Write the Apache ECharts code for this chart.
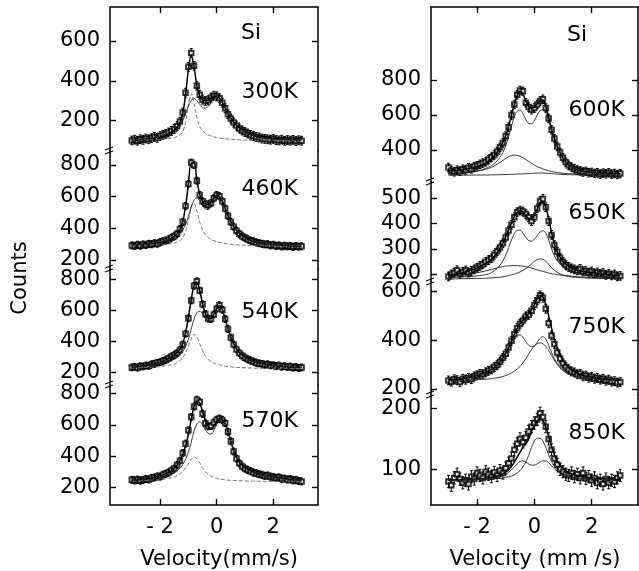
<!DOCTYPE html>
<html><head><meta charset="utf-8">
<script src="https://cdn.jsdelivr.net/npm/echarts@6/dist/echarts.min.js"></script>
<style>html,body{margin:0;padding:0;background:#fff}#c{width:639px;height:571px}</style>
</head><body><div id="c"></div><script>
// ---------- data ----------
const velocity = [-3.0,-2.9,-2.8,-2.7,-2.6,-2.5,-2.4,-2.3,-2.2,-2.1,-2.0,-1.9,-1.8,-1.7,-1.6,-1.5,-1.4,-1.3,-1.2,-1.1,-1.0,-0.9,-0.8,-0.7,-0.6,-0.5,-0.4,-0.3,-0.2,-0.1,0.0,0.1,0.2,0.3,0.4,0.5,0.6,0.7,0.8,0.9,1.0,1.1,1.2,1.3,1.4,1.5,1.6,1.7,1.8,1.9,2.0,2.1,2.2,2.3,2.4,2.5,2.6,2.7,2.8,2.9,3.0];
const fitVelocity = [-3,-2.5,-2,-1.7,-1.5,-1.3,-1.2,-1.1,-1.0,-0.9,-0.8,-0.7,-0.6,-0.5,-0.4,-0.3,-0.2,-0.1,0,0.1,0.2,0.3,0.4,0.5,0.6,0.7,0.8,1.0,1.2,1.5,2,2.5,3];

const counts300 = [100,104,99,106,103,110,106,112,118,113,122,128,133,140,148,158,172,195,240,340,470,540,475,375,330,305,298,302,315,325,322,312,290,262,232,210,190,175,160,150,142,135,128,122,118,115,110,108,106,104,108,102,100,104,98,102,99,103,97,101,99];
const fit300 = [100,106,118,135,152,190,235,330,455,530,470,375,325,305,300,304,314,322,322,312,290,262,234,211,192,176,163,143,130,117,108,104,102];
const singlet300 = [101,103,106,109,114,128,145,190,280,335,285,215,170,148,136,128,122,118,115,112,110,108,107,106,105,104,103,102,101,101,100,100,100];
const doublet300 = [104,110,122,135,148,175,200,235,272,300,310,300,282,267,262,270,290,310,320,312,290,262,234,211,192,176,163,143,130,117,108,104,102];

const counts460 = [292,288,296,290,298,294,302,299,306,303,312,318,322,330,340,350,365,395,440,540,680,815,800,700,610,570,555,548,560,590,610,602,570,525,478,440,410,385,365,350,340,330,322,318,310,306,302,298,300,292,296,288,292,285,290,286,289,282,288,284,286];
const fit460 = [292,297,311,328,348,390,440,540,680,810,810,705,615,570,552,550,565,592,608,600,570,525,480,442,412,388,368,342,324,306,296,290,287];
const singlet460 = [291,293,296,300,306,322,340,380,450,535,558,510,440,390,360,342,330,322,316,311,307,304,301,299,297,296,295,293,292,291,290,290,290];
const doublet460 = [295,302,315,328,342,368,390,425,475,535,578,592,575,545,522,518,540,580,606,602,570,525,478,440,410,385,365,340,322,306,296,290,287];

const counts540 = [232,236,230,240,238,245,242,252,255,262,266,274,280,290,302,312,325,345,380,450,550,665,760,790,730,640,578,548,545,575,612,635,605,545,480,425,380,348,325,308,295,285,276,270,262,258,255,249,252,245,246,240,244,236,240,234,238,230,235,228,232];
const fit540 = [233,244,266,290,312,348,385,455,555,670,760,785,730,645,580,550,548,575,612,632,605,545,482,428,385,352,328,298,278,260,245,236,231];
const singlet540 = [228,231,237,245,255,275,295,325,370,420,445,430,385,340,305,285,270,260,253,248,244,240,237,235,233,232,231,229,228,227,226,225,225];
const doublet540 = [232,242,258,272,285,312,335,368,415,480,545,585,595,580,555,540,545,575,612,632,605,545,482,428,385,352,328,298,278,260,245,236,231];

const counts570 = [250,246,252,244,250,255,252,262,265,272,270,282,288,296,310,322,345,372,420,480,565,650,715,760,745,670,610,590,592,615,632,640,630,610,555,495,430,385,355,335,322,312,305,296,292,285,282,275,278,270,268,262,266,256,258,252,255,246,250,242,240];
const fit570 = [248,256,275,298,322,372,410,465,540,635,718,752,740,685,628,590,575,590,622,640,632,607,557,497,437,392,362,327,307,287,268,255,246];
const singlet570 = [242,246,252,260,268,288,302,325,352,382,395,385,358,328,302,285,273,265,259,255,252,250,248,247,246,245,244,243,242,241,240,240,240];
const doublet570 = [245,252,265,280,295,325,348,380,425,490,560,605,620,600,568,545,540,565,605,632,628,605,555,495,435,390,360,325,305,285,266,253,244];

const counts600 = [300,282,275,285,278,290,285,298,292,305,310,318,325,332,345,358,372,392,415,440,480,530,600,660,715,740,735,670,645,630,640,660,680,690,640,580,515,465,420,385,355,330,312,302,292,285,280,274,278,270,272,266,270,262,268,264,270,262,266,260,265];
const fit600 = [280,287,305,325,350,388,412,442,482,535,600,660,712,735,720,680,648,638,645,665,683,685,648,585,520,465,420,355,313,285,272,267,264];
const doublet600 = [262,268,280,295,310,338,358,385,425,475,535,590,622,628,608,575,552,550,568,600,625,630,610,568,510,460,418,355,315,285,270,264,262];
const broad600 = [262,268,278,290,300,318,328,340,352,362,368,371,369,364,356,346,335,324,314,305,298,292,286,281,277,274,271,267,264,262,260,259,258];
const low600 = [256,256,257,257,258,258,259,259,260,260,261,261,262,263,264,264,265,266,267,268,268,268,267,266,265,263,262,260,259,258,257,256,256];

const counts650 = [190,198,205,215,200,208,214,205,212,218,225,232,238,248,255,262,276,290,305,322,345,372,395,425,445,452,448,438,425,410,425,460,490,498,465,410,355,315,288,265,248,235,228,222,218,214,220,210,212,205,210,202,206,200,204,196,200,194,198,190,192];
const fit650 = [195,205,224,242,258,285,302,322,348,375,402,428,444,450,445,432,420,418,432,458,482,488,465,420,365,318,287,250,230,215,205,198,193];
const doublet650 = [186,188,192,197,205,222,235,252,275,305,335,360,373,374,362,345,333,330,338,352,367,372,362,335,300,272,252,228,212,200,192,189,187];
const broad650 = [190,196,205,212,218,224,227,229,231,232,233,233,233,232,231,229,226,223,220,216,213,210,207,204,201,199,197,194,192,189,186,184,183];
const small650 = [180,181,182,183,184,186,187,189,191,193,196,199,203,208,214,221,230,240,250,257,260,258,250,238,225,214,206,196,190,186,183,182,181];

const counts750 = [235,230,240,236,228,242,238,246,240,252,256,262,260,268,275,280,290,298,312,328,345,370,398,425,450,468,482,498,505,522,545,565,585,575,530,470,420,385,350,325,305,290,280,272,268,260,262,252,255,246,250,242,245,238,242,234,238,230,232,226,228];
const fit750 = [236,242,256,268,280,298,312,328,346,370,398,425,448,468,482,495,508,525,548,570,585,578,548,500,450,405,368,318,288,263,248,241,236];
const doublet750 = [238,245,258,270,280,298,310,325,343,365,390,410,420,422,412,395,380,374,378,392,408,415,405,380,350,325,305,280,265,252,244,240,237];
const singlet750 = [234,236,238,240,242,246,248,251,255,260,266,273,282,293,307,324,343,362,377,386,390,386,375,358,338,318,300,275,261,250,242,238,236];

const counts850 = [80,74,86,92,84,78,82,76,88,84,94,90,86,96,92,88,95,90,98,94,102,110,118,132,142,150,145,152,162,170,176,182,192,186,170,150,132,118,108,100,96,92,90,94,88,92,86,94,85,88,82,86,78,82,76,84,78,82,80,86,90];
const fit850 = [82,83,84,85,87,89,90,93,96,100,105,112,120,128,136,142,150,162,172,180,182,180,170,154,138,124,114,102,95,90,86,84,83];
const singlet850 = [82,82,83,83,84,85,85,86,87,88,89,91,94,98,104,112,123,136,146,151,151,146,136,124,113,105,99,92,88,86,84,83,82];
const doublet850 = [82,82,83,84,85,87,88,90,92,95,99,104,109,113,114,112,109,107,107,109,112,114,114,111,106,101,97,92,89,86,84,83,82];

const temperatures = ['300K','460K','540K','570K','600K','650K','750K','850K'];
const errorHalf = [22,22,22,22,24,17,18,10];
const yTicks = [[200,400,600],[200,400,600,800],[200,400,600,800],[200,400,600,800],[400,600,800],[200,300,400,500],[200,400,600],[100,200]];
const xTicks = [-2,0,2];

// ---------- layout ----------
const colBox = [{left:110, right:318}, {left:431, right:638}];
const colRows = [[7,151,269,385,505],[7,182,282,395,505]];
const yRanges = [[47,771],[143,888],[118,869],[90,853],[217,1217],[168,565],[175,640],[41.5,222]];
const xRanges = [[-3.77,3.58],[-3.61,3.62]];
const labelY = [92,189,312,421,110,213,327,433];
const labelRight = [298,625];
const FONT = '"DejaVu Sans", sans-serif';

const panels = [
  {counts:counts300, fit:fit300, comps:[singlet300, doublet300]},
  {counts:counts460, fit:fit460, comps:[singlet460, doublet460]},
  {counts:counts540, fit:fit540, comps:[singlet540, doublet540]},
  {counts:counts570, fit:fit570, comps:[singlet570, doublet570]},
  {counts:counts600, fit:fit600, comps:[doublet600, broad600, low600]},
  {counts:counts650, fit:fit650, comps:[doublet650, broad650, small650]},
  {counts:counts750, fit:fit750, comps:[doublet750, singlet750]},
  {counts:counts850, fit:fit850, comps:[singlet850, doublet850]}
];

const grid = [], xAxis = [], yAxis = [], series = [], graphic = [];
panels.forEach((p, i) => {
  const col = i < 4 ? 0 : 1, row = i % 4;
  const box = colBox[col], rows = colRows[col];
  grid.push({left: box.left, width: box.right - box.left, top: rows[row], height: rows[row+1] - rows[row], containLabel:false});
  const isTop = row === 0, isBottom = row === 3;
  xAxis.push({
    type:'value', gridIndex:i, min:xRanges[col][0], max:xRanges[col][1],
    show: isTop || isBottom, position: isTop ? 'top' : 'bottom',
    axisLine:{show:true, onZero:false, lineStyle:{color:'#000', width:1.5}},
    axisTick:{show:true, inside:true, length:6, customValues:xTicks, lineStyle:{color:'#000', width:1.4}},
    axisLabel:{show:isBottom, customValues:xTicks, margin:12, fontSize:21, fontFamily:FONT, color:'#000',
      formatter: v => (v < 0 ? '- ' + Math.abs(v) : String(v))},
    splitLine:{show:false}
  });
  const yBase = {type:'value', gridIndex:i, min:yRanges[i][0], max:yRanges[i][1], splitLine:{show:false}};
  yAxis.push(Object.assign({}, yBase, {
    position:'left',
    axisLine:{show:true, onZero:false, lineStyle:{color:'#000', width:1.5}},
    axisTick:{show:true, inside:true, length:6, customValues:yTicks[i], lineStyle:{color:'#000', width:1.4}},
    axisLabel:{show:true, customValues:yTicks[i], margin:10, fontSize:21, fontFamily:FONT, color:'#000'}
  }));
  yAxis.push(Object.assign({}, yBase, {
    position:'right',
    axisLine:{show:true, onZero:false, lineStyle:{color:'#000', width:1.5}},
    axisTick:{show:true, inside:true, length:6, customValues:yTicks[i], lineStyle:{color:'#000', width:1.4}},
    axisLabel:{show:false}
  }));
  const pts = velocity.map((v, k) => [v, p.counts[k]]);
  const e = errorHalf[i];
  series.push({
    type:'custom', xAxisIndex:i, yAxisIndex:2*i, data:pts, clip:true, silent:true,
    renderItem:(params, api) => {
      const x = api.value(0), y = api.value(1);
      const a = api.coord([x, y - e]), b = api.coord([x, y + e]);
      const st = {stroke:'#000', lineWidth:1};
      return {type:'group', children:[
        {type:'line', shape:{x1:a[0], y1:a[1], x2:b[0], y2:b[1]}, style:st},
        {type:'line', shape:{x1:a[0]-1.5, y1:a[1], x2:a[0]+1.5, y2:a[1]}, style:st},
        {type:'line', shape:{x1:b[0]-1.5, y1:b[1], x2:b[0]+1.5, y2:b[1]}, style:st}
      ]};
    }
  });
  series.push({type:'line', xAxisIndex:i, yAxisIndex:2*i, data:fitVelocity.map((v,k)=>[v, p.fit[k]]),
    smooth:0.35, showSymbol:false, lineStyle:{color:'#000', width:1.5}, silent:true});
  series.push({type:'scatter', xAxisIndex:i, yAxisIndex:2*i, data:pts, symbol:'emptyRect', symbolSize:4.5,
    itemStyle:{color:'#000', borderWidth:1.4}, silent:true});
  p.comps.forEach((c, j) => {
    const dashed = col === 0 && j === 0;
    series.push({type:'line', xAxisIndex:i, yAxisIndex:2*i, data:fitVelocity.map((v,k)=>[v, c[k]]),
      smooth:0.35, showSymbol:false, silent:true,
      lineStyle:{color: dashed ? '#666' : '#222', width: dashed ? 0.9 : 0.9, type: dashed ? [4,2] : 'solid'}});
  });
  graphic.push({type:'text', x:labelRight[col], y:labelY[i], z:100,
    style:{text:temperatures[i], fontSize:22, fontFamily:FONT, fill:'#000', align:'right', verticalAlign:'middle'}});
  if (row > 0) {
    const bx = box.left, by = rows[row];
    graphic.push({type:'group', z:100, children:[
      {type:'rect', shape:{x:bx-2, y:by-2, width:4, height:4}, style:{fill:'#fff'}},
      {type:'line', shape:{x1:bx-5, y1:by-1, x2:bx+3, y2:by-4}, style:{stroke:'#000', lineWidth:1.2}},
      {type:'line', shape:{x1:bx-5, y1:by+3, x2:bx+3, y2:by}, style:{stroke:'#000', lineWidth:1.2}}
    ]});
  }
});

graphic.push({type:'text', x:251, y:33, z:100, style:{text:'Si', fontSize:22, fontFamily:FONT, fill:'#000', align:'center', verticalAlign:'middle'}});
graphic.push({type:'text', x:577, y:35, z:100, style:{text:'Si', fontSize:22, fontFamily:FONT, fill:'#000', align:'center', verticalAlign:'middle'}});
graphic.push({type:'text', x:219, y:560, z:100, style:{text:'Velocity(mm/s)', fontSize:21, fontFamily:FONT, fill:'#000', align:'center', verticalAlign:'middle'}});
graphic.push({type:'text', x:535, y:560, z:100, style:{text:'Velocity (mm /s)', fontSize:21, fontFamily:FONT, fill:'#000', align:'center', verticalAlign:'middle'}});
graphic.push({type:'text', x:21, y:278, rotation:Math.PI/2, z:100, style:{text:'Counts', fontSize:21, fontFamily:FONT, fill:'#000', align:'center', verticalAlign:'middle'}});

const chart = echarts.init(document.getElementById('c'), null, {renderer:'canvas'});
chart.setOption({animation:false, backgroundColor:'#fff', grid, xAxis, yAxis, series, graphic});
</script></body></html>
